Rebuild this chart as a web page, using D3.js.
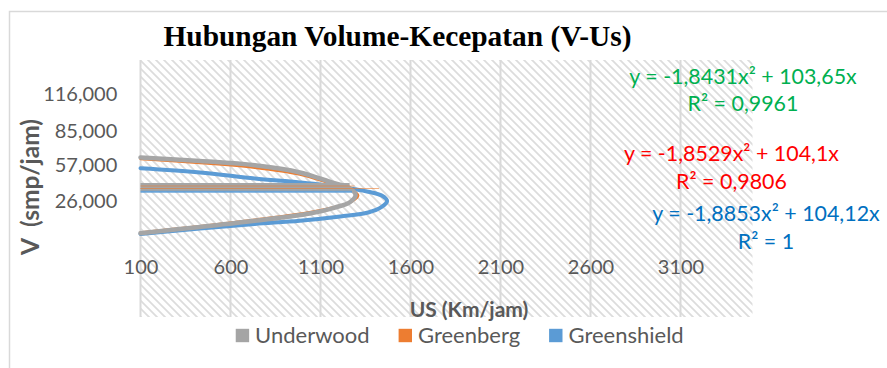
<!DOCTYPE html>
<html>
<head>
<meta charset="utf-8">
<script src="https://cdn.jsdelivr.net/npm/d3@7"></script>
<style>
  html, body { margin: 0; padding: 0; background: #fff; }
  svg { display: block; }
</style>
</head>
<body>
<svg id="chart" width="887" height="368"></svg>
<script>
// ---- Data -------------------------------------------------------------
const seriesNames = ["Underwood", "Greenberg", "Greenshield"];

// Horizontal: volume; vertical: value on the left axis
const underwoodV = [100, 430, 735, 985, 1150, 1265, 1295, 1265, 1180, 1040, 735, 430, 100];
const underwoodY = [62400, 59400, 55800, 49800, 42000, 36300, 30800, 25000, 20300, 15300, 9200, 4000, -1300];

const greenbergV = [100, 430, 735, 985, 1150, 1275, 1310, 1275, 1185, 1040, 735, 430, 100];
const greenbergY = [60900, 57600, 53700, 48000, 40700, 35100, 30400, 25400, 21100, 16400, 10200, 4800, -500];

const greenshieldV = [100, 430, 735, 985, 1210, 1365, 1440, 1470, 1440, 1365, 1210, 985, 735, 430, 100];
const greenshieldY = [53300, 49800, 44700, 41400, 37600, 33600, 30400, 25800, 20800, 16100, 12800, 9200, 6500, 2700, -1900];

// Flat connector runs from the left edge: [level, end volume]
const underwoodFlat = [[39700, 1262], [37100, 1262], [35200, 1268]];
const greenbergFlat = [[38400, 1290], [36300, 1425]];
const greenshieldFlat = [[33500, 1275]];

// Trendline labels
const equations = ["y = -1,8431x² + 103,65x", "y = -1,8529x² + 104,1x", "y = -1,8853x² + 104,12x"];
const rSquared = ["R² = 0,9961", "R² = 0,9806", "R² = 1"];

// Axis ticks
const xTicks = [100, 600, 1100, 1600, 2100, 2600, 3100];
const yTicks = [116000, 85000, 57000, 26000];

// ---- Styles -----------------------------------------------------------
const lineColor = { Underwood: "#A5A5A5", Greenberg: "#ED7D31", Greenshield: "#5B9BD5" };
const lineWidth = { Underwood: 4.5, Greenberg: 2.2, Greenshield: 4 };
const eqColor = ["#00B050", "#FF0000", "#0070C0"];
const textGray = "#595959";
const FONT = "Lato, 'Open Sans', sans-serif";

// ---- Layout -----------------------------------------------------------
const plot = { left: 140.5, right: 752.5, top: 60, bottom: 317 };

const svg = d3.select("#chart");

const x = d3.scaleLinear().domain([100, 3500]).range([plot.left, plot.right]);
const y = d3.scaleLinear().domain([-71700, 144300]).range([plot.bottom, plot.top]);

// hatched plot background
const defs = svg.append("defs");
const pat = defs.append("pattern")
  .attr("id", "hatch")
  .attr("patternUnits", "userSpaceOnUse")
  .attr("width", 8).attr("height", 8);
pat.append("rect").attr("width", 8).attr("height", 8).attr("fill", "#fff");
pat.append("path")
  .attr("d", "M-2,-2 L10,10 M-2,6 L2,10 M6,-2 L10,2")
  .attr("stroke", "#dcdcdc").attr("stroke-width", 1.7);

// chart border
svg.append("rect")
  .attr("x", 9.5).attr("y", 11.5)
  .attr("width", 960).attr("height", 420)
  .attr("fill", "none").attr("stroke", "#d9d9d9").attr("stroke-width", 1.5);

svg.append("rect")
  .attr("x", plot.left).attr("y", plot.top)
  .attr("width", plot.right - plot.left).attr("height", plot.bottom - plot.top)
  .attr("fill", "url(#hatch)");

// vertical gridlines
svg.append("g").selectAll("line").data(xTicks).join("line")
  .attr("x1", d => x(d)).attr("x2", d => x(d))
  .attr("y1", plot.top).attr("y2", plot.bottom)
  .attr("stroke", "#d9d9d9").attr("stroke-width", 2);

// title
svg.append("text")
  .attr("x", 397.5).attr("y", 45.5)
  .attr("text-anchor", "middle")
  .attr("font-family", "'Liberation Serif', 'Times New Roman', serif")
  .attr("font-weight", "bold").attr("font-size", 29.4)
  .attr("fill", "#000")
  .text("Hubungan Volume-Kecepatan (V-Us)");

// x axis labels
const xAxis = svg.append("g")
  .attr("transform", "translate(0,266.7)")
  .call(d3.axisBottom(x).tickValues(xTicks).tickSize(0).tickPadding(0).tickFormat(d3.format("d")));
xAxis.select(".domain").remove();
xAxis.selectAll("text")
  .attr("y", 0).attr("dy", "0.36em")
  .attr("font-family", FONT).attr("font-size", 20).attr("fill", textGray);

// y axis labels
const yAxis = svg.append("g")
  .attr("transform", "translate(117.3,0)")
  .call(d3.axisLeft(y).tickValues(yTicks).tickSize(0).tickPadding(0).tickFormat(d3.format(",")));
yAxis.select(".domain").remove();
yAxis.selectAll("text")
  .attr("x", 0).attr("dy", "0.36em")
  .attr("font-family", FONT).attr("font-size", 20).attr("fill", textGray);

// axis titles
svg.append("text")
  .attr("transform", "translate(30,187) rotate(-90)")
  .attr("text-anchor", "middle").attr("dy", "0.36em")
  .attr("font-family", FONT).attr("font-weight", "bold").attr("font-size", 24.5)
  .attr("fill", textGray).style("white-space", "pre")
  .text("V  (smp/jam)");

svg.append("text")
  .attr("x", 469).attr("y", 309).attr("dy", "0.36em")
  .attr("text-anchor", "middle")
  .attr("font-family", FONT).attr("font-weight", "bold").attr("font-size", 21)
  .attr("fill", textGray)
  .text("US (Km/jam)");

// curves
const line = d3.line()
  .x(d => x(d[0])).y(d => y(d[1]))
  .curve(d3.curveCatmullRom.alpha(0.5));

const curves = {
  Underwood: d3.zip(underwoodV, underwoodY),
  Greenberg: d3.zip(greenbergV, greenbergY),
  Greenshield: d3.zip(greenshieldV, greenshieldY)
};
const flats = { Underwood: underwoodFlat, Greenberg: greenbergFlat, Greenshield: greenshieldFlat };

const gLines = svg.append("g").attr("fill", "none").attr("stroke-linecap", "round");

["Greenshield", "Greenberg", "Underwood"].forEach(name => {
  gLines.append("path")
    .attr("d", line(curves[name]))
    .attr("stroke", lineColor[name])
    .attr("stroke-width", lineWidth[name]);
});

// flat connector runs
const flatWidth = { Underwood: 3, Greenberg: 1.2, Greenshield: 2 };
const flatOpacity = { Underwood: 1, Greenberg: 0.6, Greenshield: 0.9 };
["Underwood", "Greenberg", "Greenshield"].forEach(name => {
  gLines.append("g").selectAll("line").data(flats[name]).join("line")
    .attr("x1", x(100)).attr("x2", d => x(d[1]))
    .attr("y1", d => y(d[0])).attr("y2", d => y(d[0]))
    .attr("stroke", lineColor[name])
    .attr("stroke-width", flatWidth[name])
    .attr("stroke-opacity", flatOpacity[name])
    .attr("stroke-linecap", "butt");
});

// trendline equations
const eqPos = [[743, 76.7, 103.3], [731.5, 153.3, 181], [766, 213.3, 241.7]];
equations.forEach((eq, i) => {
  const [cx, y1, y2] = eqPos[i];
  [[eq, y1], [rSquared[i], y2]].forEach(([t, yy]) => {
    svg.append("text")
      .attr("x", cx).attr("y", yy).attr("dy", "0.36em")
      .attr("text-anchor", "middle")
      .attr("font-family", FONT).attr("font-size", 21.4)
      .attr("fill", eqColor[i])
      .text(t);
  });
});

// legend
const legend = svg.append("g");
const items = seriesNames.map(name => {
  const g = legend.append("g");
  g.append("rect").attr("width", 13.4).attr("height", 13.4).attr("y", -6.7)
    .attr("fill", lineColor[name]);
  const t = g.append("text").attr("x", 19.4).attr("dy", "0.36em")
    .attr("font-family", FONT).attr("font-size", 22).attr("fill", textGray)
    .text(name);
  return { g, w: 19.4 + t.node().getComputedTextLength() };
});
const gap = 29;
const total = d3.sum(items, d => d.w) + gap * (items.length - 1);
let cursor = 459.7 - total / 2;
items.forEach(it => {
  it.g.attr("transform", `translate(${cursor},335.5)`);
  cursor += it.w + gap;
});
</script>
</body>
</html>
